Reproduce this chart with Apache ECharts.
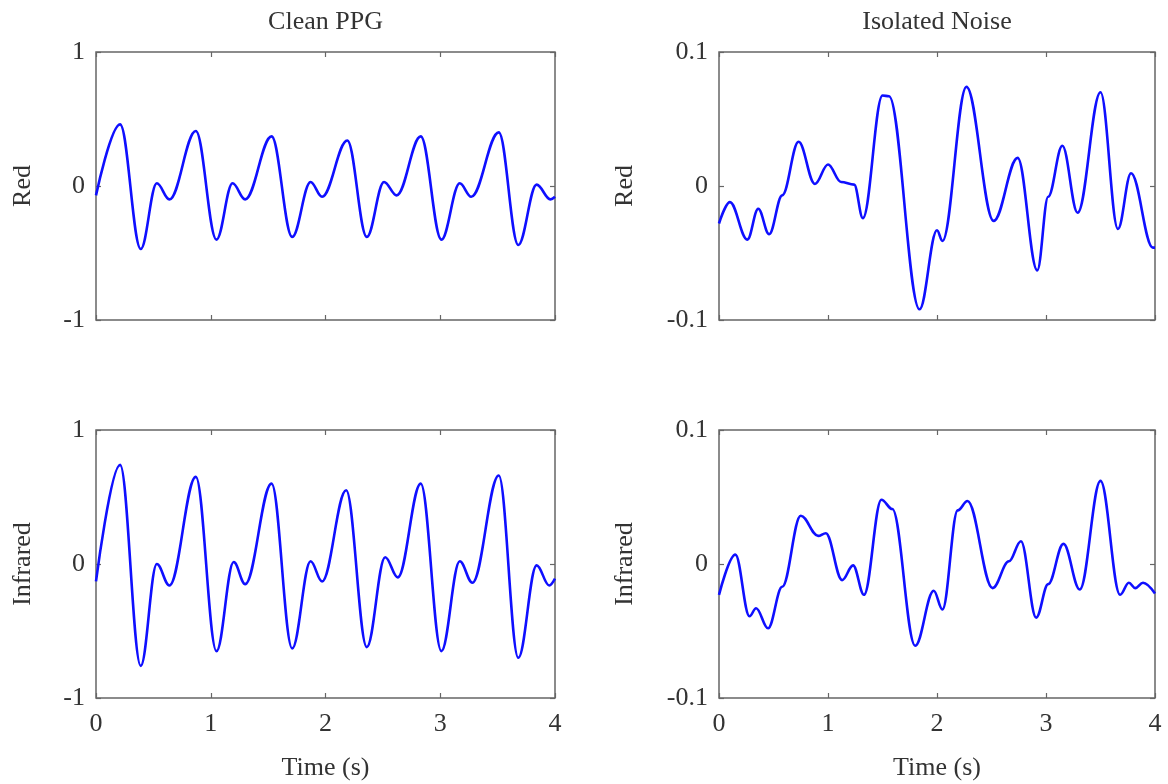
<!DOCTYPE html>
<html>
<head>
<meta charset="utf-8">
<script src="https://cdn.jsdelivr.net/npm/echarts@6/dist/echarts.min.js"></script>
<style>
html,body{margin:0;padding:0;background:#fff;}
#chart{width:1168px;height:784px;}
</style>
</head>
<body>
<div id="chart"></div>
<script>
// ---- Data (time in s, value) ----
const cleanRedT = [0, 0.21, 0.39, 0.53, 0.64, 0.87, 1.05, 1.19, 1.30, 1.53, 1.71, 1.87, 1.97, 2.19, 2.36, 2.51, 2.62, 2.83, 3.01, 3.17, 3.27, 3.51, 3.68, 3.84, 3.96, 4.0];
const cleanRedV = [-0.07, 0.46, -0.47, 0.02, -0.10, 0.41, -0.40, 0.02, -0.10, 0.37, -0.38, 0.03, -0.08, 0.34, -0.38, 0.03, -0.07, 0.37, -0.40, 0.02, -0.08, 0.40, -0.44, 0.01, -0.10, -0.08];

const cleanIrT = [0, 0.21, 0.39, 0.53, 0.64, 0.87, 1.05, 1.20, 1.30, 1.53, 1.71, 1.87, 1.97, 2.18, 2.36, 2.52, 2.63, 2.83, 3.01, 3.17, 3.28, 3.51, 3.68, 3.84, 3.95, 4.0];
const cleanIrV = [-0.13, 0.74, -0.76, 0.0, -0.16, 0.65, -0.65, 0.015, -0.15, 0.60, -0.63, 0.02, -0.13, 0.55, -0.62, 0.05, -0.10, 0.60, -0.65, 0.02, -0.14, 0.66, -0.70, -0.01, -0.16, -0.11];

const noiseRedT = [0, 0.10, 0.26, 0.36, 0.46, 0.58, 0.73, 0.88, 1.00, 1.12, 1.24, 1.32, 1.50, 1.56, 1.84, 2.00, 2.05, 2.27, 2.52, 2.74, 2.92, 3.02, 3.15, 3.29, 3.50, 3.66, 3.78, 3.98, 4.0];
const noiseRedV = [-0.028, -0.012, -0.040, -0.017, -0.036, -0.007, 0.033, 0.0015, 0.016, 0.003, 0.001, -0.024, 0.0675, 0.067, -0.092, -0.033, -0.041, 0.074, -0.026, 0.021, -0.063, -0.008, 0.030, -0.020, 0.070, -0.032, 0.0095, -0.046, -0.046];

const noiseIrT = [0, 0.15, 0.28, 0.34, 0.45, 0.58, 0.75, 0.91, 0.98, 1.13, 1.23, 1.33, 1.49, 1.59, 1.80, 1.97, 2.05, 2.19, 2.28, 2.51, 2.66, 2.77, 2.91, 3.02, 3.16, 3.31, 3.50, 3.68, 3.76, 3.82, 3.89, 4.0];
const noiseIrV = [-0.023, 0.007, -0.039, -0.033, -0.048, -0.017, 0.036, 0.021, 0.023, -0.012, -0.001, -0.023, 0.048, 0.041, -0.061, -0.020, -0.034, 0.040, 0.047, -0.018, 0.002, 0.017, -0.040, -0.015, 0.015, -0.019, 0.062, -0.023, -0.014, -0.018, -0.014, -0.022];

const colTitles = ['Clean PPG', 'Isolated Noise'];
const rowNames = ['Red', 'Infrared'];
const xLabel = 'Time (s)';
const xTicks = {min: 0, max: 4, interval: 1};
const yRanges = [{min: -1, max: 1, interval: 1}, {min: -0.1, max: 0.1, interval: 0.1}];

// ---- Layout ----
const FONT = "'Liberation Serif', 'Times New Roman', serif";
const FS = 26;
const TXT = '#333';
const FRAME = '#666';
const grids = [
  {left: 96, top: 52, width: 459, height: 268},
  {left: 719, top: 52, width: 436, height: 268},
  {left: 96, top: 430, width: 459, height: 268},
  {left: 719, top: 430, width: 436, height: 268}
];
const seriesData = [
  [cleanRedT, cleanRedV],
  [noiseRedT, noiseRedV],
  [cleanIrT, cleanIrV],
  [noiseIrT, noiseIrV]
];

const xAxis = [], yAxis = [], series = [];
const tickStyle = {show: true, inside: true, length: 5, lineStyle: {color: FRAME, width: 1.2}};
const noLine = {show: false, onZero: false};
grids.forEach((g, i) => {
  const row = Math.floor(i / 2), col = i % 2;
  const yr = yRanges[col];
  // bottom x axis
  xAxis.push({
    type: 'value', gridIndex: i, position: 'bottom', min: xTicks.min, max: xTicks.max, interval: xTicks.interval,
    axisLine: noLine, splitLine: {show: false}, axisTick: tickStyle,
    axisLabel: {show: row === 1, color: TXT, fontFamily: FONT, fontSize: FS, margin: 13},
    name: row === 1 ? xLabel : '', nameLocation: 'middle', nameGap: 57,
    nameTextStyle: {color: TXT, fontFamily: FONT, fontSize: FS}
  });
  // top x axis (ticks + column title)
  xAxis.push({
    type: 'value', gridIndex: i, position: 'top', min: xTicks.min, max: xTicks.max, interval: xTicks.interval,
    axisLine: noLine, splitLine: {show: false}, axisTick: tickStyle,
    axisLabel: {show: false},
    name: row === 0 ? colTitles[col] : '', nameLocation: 'middle', nameGap: 17,
    nameTextStyle: {color: TXT, fontFamily: FONT, fontSize: FS}
  });
  // left y axis
  yAxis.push({
    type: 'value', gridIndex: i, position: 'left', min: yr.min, max: yr.max, interval: yr.interval,
    axisLine: noLine, splitLine: {show: false}, axisTick: tickStyle,
    axisLabel: {color: TXT, fontFamily: FONT, fontSize: FS, margin: 11,
      formatter: v => (Math.abs(v) < 1e-9 ? '0' : String(Math.round(v * 10) / 10))},
    name: rowNames[row], nameLocation: 'middle', nameGap: col === 0 ? 60 : 81,
    nameTextStyle: {color: TXT, fontFamily: FONT, fontSize: FS}
  });
  // right y axis (ticks only)
  yAxis.push({
    type: 'value', gridIndex: i, position: 'right', min: yr.min, max: yr.max, interval: yr.interval,
    axisLine: noLine, splitLine: {show: false}, axisTick: tickStyle,
    axisLabel: {show: false}
  });
  const [T, V] = seriesData[i];
  series.push({
    type: 'line', xAxisIndex: i * 2, yAxisIndex: i * 2,
    data: T.map((t, k) => [t, V[k]]),
    smooth: 0.37, smoothMonotone: 'x', showSymbol: false, symbol: 'none',
    lineStyle: {color: '#0f0fff', width: 2.6}, silent: true, animation: false
  });
});

const chart = echarts.init(document.getElementById('chart'), null, {renderer: 'canvas'});
chart.setOption({
  animation: false,
  backgroundColor: '#fff',
  grid: grids.map(g => Object.assign({show: true, borderColor: FRAME, borderWidth: 1.5, backgroundColor: 'transparent', containLabel: false}, g)),
  xAxis, yAxis, series
});
</script>
</body>
</html>
